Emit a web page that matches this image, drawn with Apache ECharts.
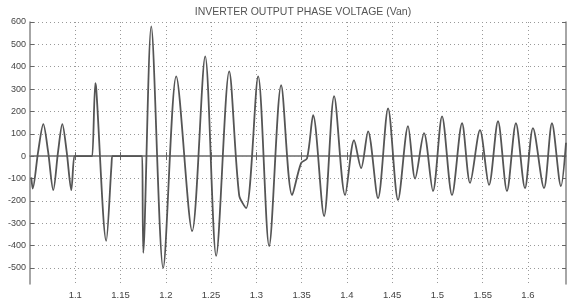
<!DOCTYPE html>
<html lang="en">
    <head>
        <meta charset="utf-8">
        <title>Inverter output phase voltage</title>
        <style>
            html, body { margin: 0; padding: 0; background: #fff; }
        </style>
    </head>

    <body>
        <div id="echart" style="width: 567px; height: 305px;"></div>
        <script src="https://cdn.jsdelivr.net/npm/echarts@6/dist/echarts.min.js"></script>
        <script>
            // time (s) and voltage (V) at peaks, troughs and corners
            let timeValues = [
                1.0514, 1.0530, 1.0590, 1.0647, 1.0700, 1.0757, 1.0810, 1.0857, 1.0905, 1.0956,
                1.0989, 1.1000, 1.1180, 1.1188, 1.1221, 1.1232, 1.1342, 1.1400, 1.1408, 1.1418,
                1.1732, 1.1740, 1.1751, 1.1839, 1.1971,
                1.2115, 1.2291, 1.2435, 1.2556, 1.2700, 1.2810, 1.2887, 1.3020, 1.3141, 1.3274,
                1.3395, 1.3494, 1.3560, 1.3627, 1.3748, 1.3859, 1.3980, 1.4079, 1.4157, 1.4234,
                1.4344, 1.4455, 1.4565, 1.4675, 1.4753, 1.4852, 1.4951, 1.5051, 1.5161, 1.5272,
                1.5360, 1.5470, 1.5570, 1.5669, 1.5768, 1.5867, 1.5967, 1.6055, 1.6177, 1.6265,
                1.6364, 1.6420
            ];
            let voltageValues = [
                -95, -145, 20, 143, 20, -152, 20, 143, 20, -152,
                0, 0, 0, 0, 326, 300, -379, -40, 0, 0,
                0, 0, -433, 580, -500,
                357, -335, 446, -446, 379, -174, -232, 357, -402, 317,
                -174, -31, -10, 183, -268, 268, -174, 71, -54, 111,
                -188, 214, -196, 134, -100, 103, -156, 178, -174, 147,
                -120, 116, -129, 156, -156, 147, -143, 125, -143, 147,
                -134, 60
            ];
            let xTicks = [1.1, 1.15, 1.2, 1.25, 1.3, 1.35, 1.4, 1.45, 1.5, 1.55, 1.6];
            let yTicks = [-500, -400, -300, -200, -100, 0, 100, 200, 300, 400, 500, 600];

            let data = timeValues.map((t, i) => [t, voltageValues[i]]);

            let myChart = echarts.init(document.getElementById('echart'));
            let axisLine = { show: true, lineStyle: { color: '#888', width: 1.5 } };
            let option = {
                backgroundColor: '#fff',
                animation: false,
                title: {
                    text: 'INVERTER OUTPUT PHASE VOLTAGE (Van)',
                    left: 298,
                    textAlign: 'center',
                    top: 2,
                    textStyle: { fontSize: 10.5, fontWeight: 'normal', color: '#555', fontFamily: 'Liberation Sans' }
                },
                grid: { left: 30, right: 1, top: 22, bottom: 21 },
                xAxis: [
                    {
                        type: 'value',
                        min: 1.05,
                        max: 1.642,
                        axisLine: axisLine,
                        axisTick: { inside: true, length: 4, customValues: xTicks, lineStyle: { color: '#666' } },
                        axisLabel: {
                            customValues: xTicks,
                            color: '#444',
                            fontSize: 9.5,
                            fontFamily: 'Liberation Sans',
                            margin: 6
                        },
                        splitLine: { show: true, lineStyle: { type: [1, 3], color: '#999' } }
                    },
                    {
                        type: 'value',
                        position: 'top',
                        min: 1.05,
                        max: 1.642,
                        axisLine: axisLine,
                        axisTick: { inside: true, length: 4, customValues: xTicks, lineStyle: { color: '#666' } },
                        axisLabel: { show: false },
                        splitLine: { show: false }
                    }
                ],
                yAxis: [
                    {
                        type: 'value',
                        min: -572,
                        max: 600,
                        axisLine: axisLine,
                        axisTick: { inside: true, length: 4, customValues: yTicks, lineStyle: { color: '#666' } },
                        axisLabel: {
                            customValues: yTicks,
                            color: '#444',
                            fontSize: 9,
                            fontFamily: 'Liberation Sans',
                            margin: 4
                        },
                        splitLine: { show: true, lineStyle: { type: [1, 3], color: '#999' } }
                    },
                    {
                        type: 'value',
                        position: 'right',
                        min: -572,
                        max: 600,
                        axisLine: axisLine,
                        axisTick: { inside: true, length: 4, customValues: yTicks, lineStyle: { color: '#666' } },
                        axisLabel: { show: false },
                        splitLine: { show: false }
                    }
                ],
                series: [
                    {
                        name: 'Van',
                        type: 'line',
                        data: data,
                        smooth: 0.3,
                        showSymbol: false,
                        lineStyle: { color: '#555', width: 1.8 }
                    }
                ]
            };
            myChart.setOption(option);
        </script>
    </body>
</html>
